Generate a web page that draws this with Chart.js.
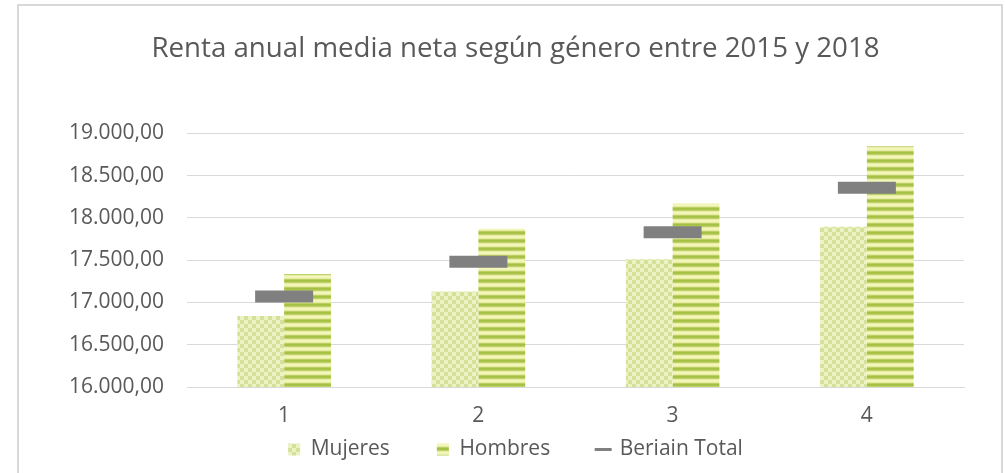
<!DOCTYPE html>
<html lang="es">
<head>
  <meta charset="UTF-8" />
  <title>Renta anual media neta</title>
  <script src="https://cdn.jsdelivr.net/npm/chart.js"></script>
  <style>
    body { margin: 0; background: #fff; font-family: 'Open Sans', sans-serif; }
    /* outer frame of the chart object */
    .frame {
      position: absolute; left: 17px; top: 4px;
      width: 982px; height: 480px;
      border: 2px solid #d9d9d9;
    }
    canvas { position: absolute; left: 0; top: 0; }
  </style>
</head>
<body>
  <div class="frame"></div>
  <canvas id="chart" width="1005" height="473"></canvas>

  <script>
    // Data
    const categories = ['1', '2', '3', '4'];
    const mujeres = [16840, 17130, 17510, 17895];
    const hombres = [17335, 17870, 18170, 18845];
    const beriainTotal = [17070, 17482, 17830, 18356];
    const seriesNames = ['Mujeres', 'Hombres', 'Beriain Total'];

    const textColor = '#595959';
    const gridColor = '#d9d9d9';

    // Small checker pattern for Mujeres
    function checkerPattern() {
      const c = document.createElement('canvas');
      c.width = 8; c.height = 8;
      const g = c.getContext('2d');
      g.fillStyle = '#edf2c2';
      g.fillRect(0, 0, 8, 8);
      g.fillStyle = '#d5e19a';
      g.fillRect(0, 0, 4, 4);
      g.fillRect(4, 4, 4, 4);
      return g.createPattern(c, 'repeat');
    }

    // Horizontal stripes for Hombres
    function stripePattern() {
      const c = document.createElement('canvas');
      c.width = 8; c.height = 8;
      const g = c.getContext('2d');
      const rows = ['#a6c044', '#a9c24a', '#bfd16a', '#e6eea4', '#f3f6b8', '#f3f6b8', '#e4eca0', '#bccf64'];
      rows.forEach((col, i) => { g.fillStyle = col; g.fillRect(0, i, 8, 1); });
      return g.createPattern(c, 'repeat');
    }

    function fmt(v) {
      const s = String(Math.round(v));
      return s.replace(/\B(?=(\d{3})+(?!\d))/g, '.') + ',00';
    }

    const ctx = document.getElementById('chart').getContext('2d');
    new Chart(ctx, {
      type: 'bar',
      data: {
        labels: categories,
        datasets: [
          {
            label: seriesNames[0],
            data: mujeres,
            backgroundColor: checkerPattern(),
            borderWidth: 0,
            order: 1
          },
          {
            label: seriesNames[1],
            data: hombres,
            backgroundColor: stripePattern(),
            borderWidth: 0,
            order: 1
          },
          {
            type: 'line',
            label: seriesNames[2],
            data: beriainTotal,
            showLine: false,
            pointStyle: 'line',
            pointRadius: 29,
            pointHoverRadius: 29,
            pointBorderWidth: 12,
            pointBorderColor: '#808080',
            borderColor: '#808080',
            order: 0
          }
        ]
      },
      options: {
        responsive: false,
        animation: false,
        categoryPercentage: 0.482,
        barPercentage: 1,
        layout: { padding: { left: 64, right: 38, top: 4, bottom: 3 } },
        plugins: {
          title: {
            display: true,
            text: 'Renta anual media neta según género entre 2015 y 2018',
            color: textColor,
            font: { family: 'Open Sans', size: 27.7, weight: 'normal' },
            padding: { top: 28, bottom: 68 }
          },
          tooltip: { enabled: false },
          legend: {
            position: 'bottom',
            labels: {
              color: textColor,
              font: { family: 'Open Sans', size: 21 },
              usePointStyle: true,
              boxWidth: 12,
              boxHeight: 12,
              padding: 47,
              generateLabels(chart) {
                return chart.data.datasets.map((ds, i) => ({
                  text: ds.label,
                  fillStyle: ds.type === 'line' ? '#808080' : ds.backgroundColor,
                  strokeStyle: '#808080',
                  lineWidth: ds.type === 'line' ? 3 : 0,
                  pointStyle: ds.type === 'line' ? 'line' : 'rect',
                  fontColor: textColor,
                  hidden: false,
                  datasetIndex: i
                }));
              }
            }
          }
        },
        scales: {
          x: {
            grid: { display: false, drawTicks: false },
            border: { display: true, color: gridColor, width: 1 },
            ticks: {
              color: textColor,
              font: { family: 'Open Sans', size: 21 },
              // mirrored so the labels are not clipped to the thin axis box
              mirror: true,
              padding: -41.6
            },
            afterFit(scale) { scale.height = 5; }
          },
          y: {
            min: 16000,
            max: 19000,
            grid: { color: gridColor, drawTicks: false },
            border: { display: false },
            ticks: {
              stepSize: 500,
              color: textColor,
              font: { family: 'Open Sans', size: 21 },
              padding: 23,
              callback: (v) => fmt(v)
            },
            afterFit(scale) { scale.width = 123; }
          }
        }
      }
    });
  </script>
</body>
</html>
